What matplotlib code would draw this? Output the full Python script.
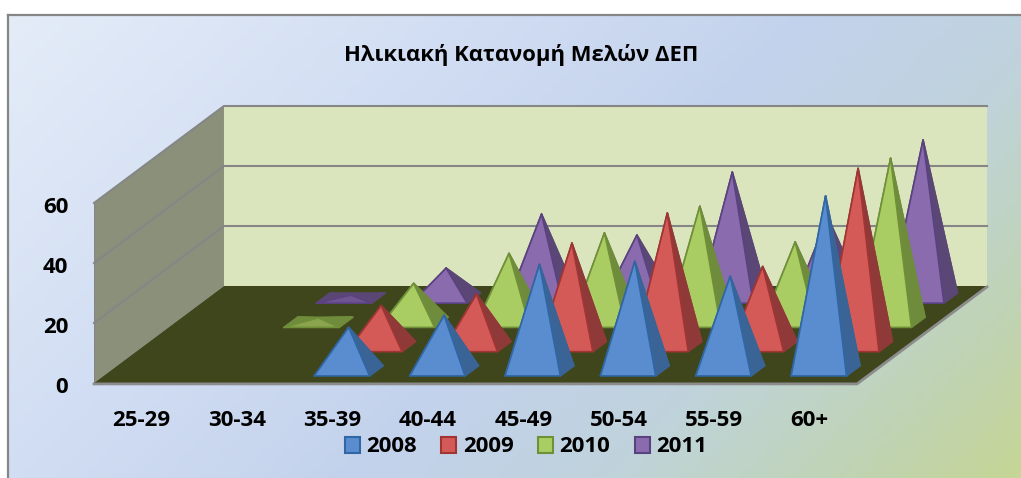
import numpy as np
import matplotlib
matplotlib.use("Agg")
import matplotlib.pyplot as plt
from matplotlib.colors import LinearSegmentedColormap
from matplotlib.patches import Patch, Polygon
from matplotlib.transforms import ScaledTranslation

plt.rcParams['font.family'] = ['Open Sans', 'DejaVu Sans']

categories = ['25-29', '30-34', '35-39', '40-44', '45-49', '50-54', '55-59', '60+']
years = ['2008', '2009', '2010', '2011']

# nan = no pyramid drawn
v2008 = [np.nan, np.nan, 14.5, 18.5, 35.5, 36.5, 31.5, 58.3]
v2009 = [np.nan, np.nan, 13.7, 17.5, 34.5, 44.5, 26.7, 59.4]
v2010 = [np.nan, 1.5, 13, 23, 29.8, 38.7, 26.8, 54.7]
v2011 = [np.nan, 1, 10, 28, 21, 42, 27, 52.7]
series = [v2008, v2009, v2010, v2011]

yticks = [0, 20, 40, 60]

front_cols = ['#5A8DCF', '#D45A58', '#A9CD62', '#8A6BAE']
side_cols = ['#3A6496', '#8F3A38', '#6F8B3C', '#5B4776']
edge_cols = ['#2F67A5', '#A03533', '#6F8F38', '#5A4280']
flat_cols = ['#4A78B0', '#B04A48', '#8AA54E', '#6F5590']

# depth of the floor, in data units per unit of depth
depth_x = 130 / 95.4
depth_y = 97 / 3.0
half_w = 0.29
half_d = 0.052

fig = plt.figure(figsize=(10.21, 4.78), dpi=100, facecolor='white')

# chart area background
bg = fig.add_axes([7.5 / 1021, 0, 1 - 7.5 / 1021, 1 - 14.5 / 478])
cmap = LinearSegmentedColormap.from_list('bg', [
    (0.0, '#E4ECF8'), (0.30, '#D2DEF3'), (0.55, '#C3D2EC'),
    (0.72, '#BFD3DC'), (0.88, '#C0D3B4'), (1.0, '#C5D696')])
xx, yy = np.meshgrid(np.linspace(0, 1, 300), np.linspace(0, 1, 150))
bg.imshow((xx * 1013 + yy * 463) / (1013 + 463), cmap=cmap, aspect='auto', extent=(0, 1, 1, 0))
bg.set_xticks([])
bg.set_yticks([])
for s in ['left', 'top']:
    bg.spines[s].set_color('#868686')
    bg.spines[s].set_linewidth(1.6)
for s in ['right', 'bottom']:
    bg.spines[s].set_visible(False)

# main axes: x in categories, y in values on the front plane
ax = fig.add_axes([94 / 1021, (478 - 383) / 478, (987 - 94) / 1021, (383 - 106) / 478])
ax.patch.set_visible(False)
ax.set_xlim(0, len(categories) + depth_x)
ax.set_ylim(0, yticks[-1] + depth_y)
for s in ax.spines.values():
    s.set_visible(False)
n = len(categories)
top = yticks[-1]

# walls and floor
ax.add_patch(Polygon([(depth_x, depth_y), (n + depth_x, depth_y), (n + depth_x, depth_y + top), (depth_x, depth_y + top)],
                     fc='#DAE5BE', ec='none', zorder=1))
ax.add_patch(Polygon([(0, 0), (depth_x, depth_y), (depth_x, depth_y + top), (0, top)],
                     fc='#8A9079', ec='none', zorder=1))
for t in yticks[1:]:
    ax.plot([0, depth_x, n + depth_x], [t, depth_y + t, depth_y + t], color='#868686', lw=1.5, zorder=2,
            solid_joinstyle='miter', clip_on=False)
ax.plot([0, 0], [0, top], color='#868686', lw=1.5, zorder=2)
ax.add_patch(Polygon([(0, 0), (depth_x, depth_y), (n + depth_x, depth_y), (n, 0)],
                     fc='#3F461C', ec='none', zorder=3))
ax.plot([0, n, n + depth_x], [-0.3, -0.3, depth_y - 0.3], color='#8C8C8C', lw=2, zorder=3, clip_on=False)

# pyramids, back row first
for s in range(len(series) - 1, -1, -1):
    dc = (s + 0.5) / len(series)
    for i, val in enumerate(series[s]):
        if np.isnan(val):
            continue
        cx = i + 0.5 + dc * depth_x
        cy = dc * depth_y
        fl = (cx - half_w - half_d * depth_x, cy - half_d * depth_y)
        fr = (cx + half_w - half_d * depth_x, cy - half_d * depth_y)
        br = (cx + half_w + half_d * depth_x, cy + half_d * depth_y)
        bl = (cx - half_w + half_d * depth_x, cy + half_d * depth_y)
        apex = (cx, cy + val)
        z = 10 + (3 - s) * 10 + i * 0.1
        # nearly flat pyramids are seen from above, so they look darker
        front = flat_cols[s] if val < 3 else front_cols[s]
        faces = [([bl, br, apex], side_cols[s], side_cols[s]), ([fl, bl, apex], side_cols[s], side_cols[s]),
                 ([fr, br, apex], side_cols[s], side_cols[s]), ([fl, fr, apex], front, edge_cols[s])]
        for pts, col, ecol in faces:
            ax.add_patch(Polygon(pts, closed=True, fc=col, ec=ecol, lw=1.2, joinstyle='round', zorder=z))

ax.set_xticks(np.arange(n) + 0.5)
ax.set_xticklabels(categories)
ax.set_yticks(yticks)
ax.tick_params(axis='both', length=0, labelsize=16, labelcolor='black')
ax.tick_params(axis='x', pad=19.5)
ax.tick_params(axis='y', pad=18.5)
for lab in ax.get_xticklabels() + ax.get_yticklabels():
    lab.set_fontweight('bold')
down = ScaledTranslation(0, -2 / 100, fig.dpi_scale_trans)
for lab in ax.get_yticklabels():
    lab.set_transform(lab.get_transform() + down)

fig.text(521 / 1021, 1 - 55 / 478, 'Ηλικιακή Κατανομή Μελών ΔΕΠ', ha='center', va='center',
         fontsize=15.8, fontweight='bold', color='black')

handles = [Patch(fc=front_cols[k], ec=edge_cols[k], lw=1.5, label=years[k]) for k in range(len(years))]
fig.legend(handles=handles, loc='center', bbox_to_anchor=(526 / 1021, 1 - 447 / 478), ncol=4, frameon=False,
           prop={'size': 16, 'weight': 'bold'}, handlelength=0.67, handleheight=0.7, handletextpad=0.3,
           columnspacing=1.1, borderpad=0)

fig.savefig('out.png', dpi=100)
